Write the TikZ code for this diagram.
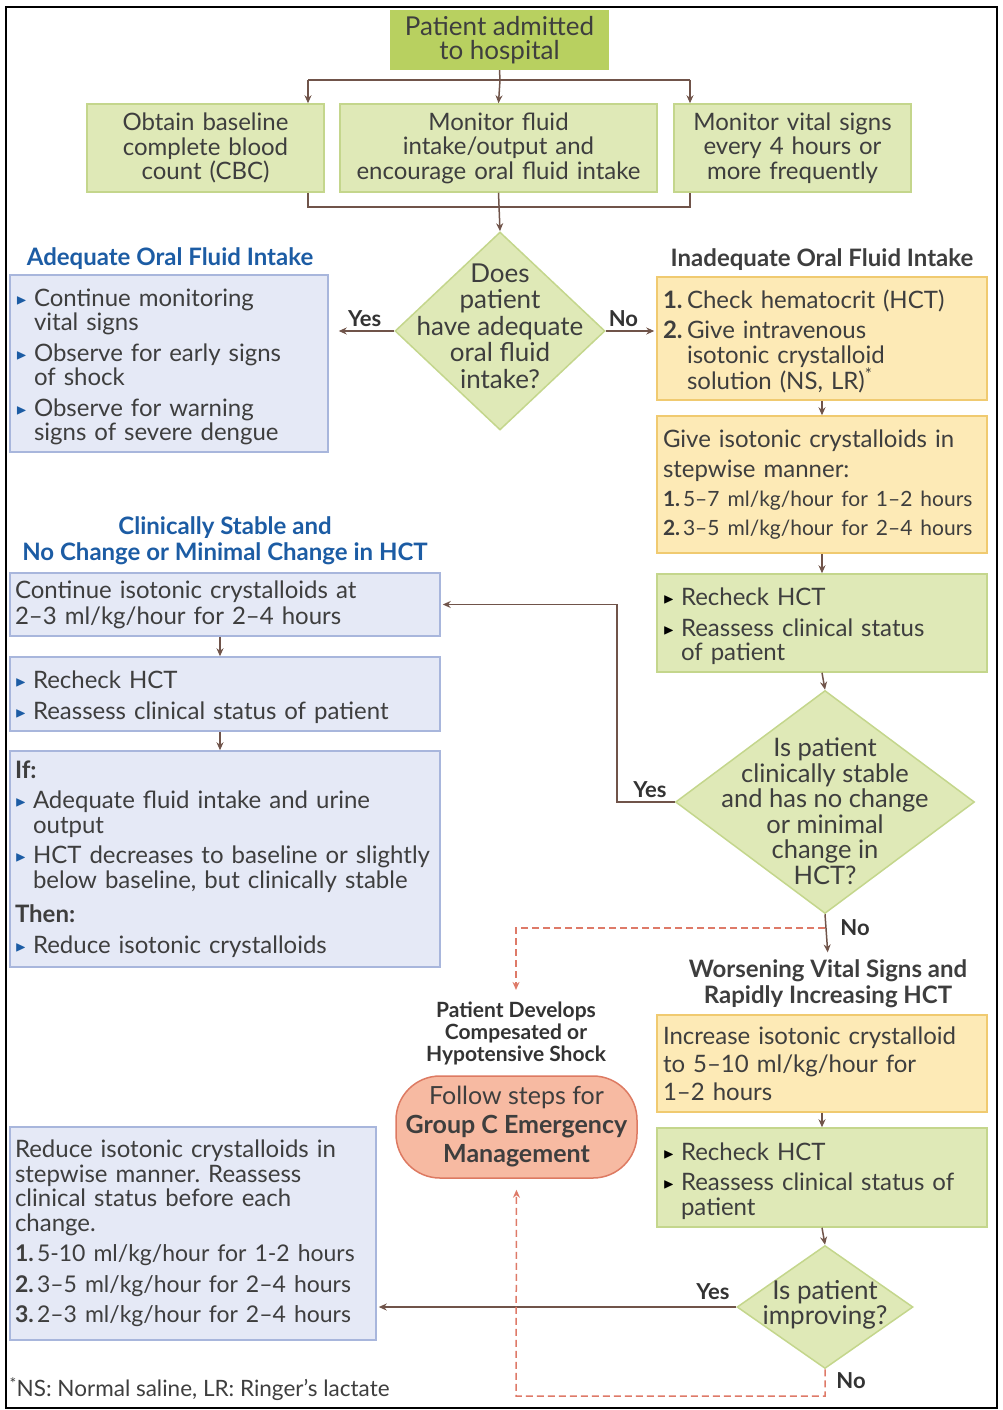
\documentclass[tikz,border=0pt]{standalone}
\usepackage{amssymb}
\usepackage{fontspec}
\setmainfont{Lato}
\usetikzlibrary{shapes.geometric,arrows.meta}

\definecolor{txt}{RGB}{62,62,62}
\definecolor{leaf}{RGB}{184,208,96}
\definecolor{pale}{RGB}{223,233,183}
\definecolor{paleline}{RGB}{196,214,140}
\definecolor{lav}{RGB}{229,233,246}
\definecolor{lavline}{RGB}{168,182,220}
\definecolor{sun}{RGB}{253,234,182}
\definecolor{sunline}{RGB}{240,202,112}
\definecolor{coral}{RGB}{247,186,162}
\definecolor{coralline}{RGB}{221,122,98}
\definecolor{navy}{RGB}{28,92,164}
\definecolor{brownline}{RGB}{112,84,74}
\definecolor{alarm}{RGB}{222,122,104}

\newcommand{\tri}[1]{\makebox[18pt][l]{\raisebox{2pt}{\textcolor{#1}{\scalebox{0.6}{$\blacktriangleright$}}}}}
\newcommand{\bul}[2][navy]{\par\noindent\hangindent=18pt\hangafter=1\tri{#1}#2\par}
\newcommand{\num}[3][24pt]{\par\noindent\hangindent=#1\hangafter=1\makebox[#1][l]{\textbf{#2.}}#3\par}
\newcommand{\gap}{\par\vspace{6pt}}
\frenchspacing

\begin{document}
\begin{tikzpicture}[x=1pt,y=-1pt,
    every node/.style={text=txt, font=\fontsize{24}{24.5}\selectfont},
    card/.style={draw, line width=1.5pt, inner xsep=5pt, inner ysep=0pt, align=left},
    leafbox/.style={card, fill=pale, draw=paleline},
    lavbox/.style={card, fill=lav, draw=lavline},
    sunbox/.style={card, fill=sun, draw=sunline},
    query/.style={diamond, fill=pale, draw=paleline, line width=1.5pt, inner sep=0pt},
    head/.style={font=\fontsize{24}{26}\selectfont\bfseries, align=center},
    answer/.style={font=\fontsize{22}{24}\selectfont\bfseries, text=black!80},
    link/.style={draw=brownline, line width=1.5pt},
    arr/.style={link, -{Stealth[length=8pt,width=7pt]}},
    alarmlink/.style={draw=alarm, line width=1.5pt, dash pattern=on 7pt off 4pt, -{Stealth[length=8pt,width=7pt]}}]
\useasboundingbox (0,0) rectangle (1002,1410);
\draw[line width=1.5pt] (6,7) rectangle (997,1408);

\node[fill=leaf, minimum width=219, minimum height=60, inner sep=0pt, align=center, font=\fontsize{26}{24}\selectfont] (admit) at (499.5,40) {Patient admitted\\to hospital};
\node[leafbox, align=center, inner xsep=2pt, minimum width=237, minimum height=88, text width=231] (baseline) at (205.5,148) {Obtain baseline\\complete blood\\count (CBC)};
\node[leafbox, align=center, inner xsep=2pt, minimum width=317, minimum height=88, text width=311] (intake) at (498.5,148) {Monitor fluid\\intake/output and\\encourage oral fluid intake};
\node[leafbox, align=center, inner xsep=2pt, minimum width=237, minimum height=88, text width=231] (vitals) at (792.5,148) {Monitor vital signs\\every 4 hours or\\more frequently};

\node[query, minimum width=210, minimum height=198] (oral) at (500,331) {};
\node[align=center, font=\fontsize{26}{26.5}\selectfont] (oralq) at (500,326) {Does\\patient\\have adequate\\oral fluid\\intake?};

\node[head, text=navy] (adhead) at (170,259) {Adequate Oral Fluid Intake};
\node[lavbox, minimum width=318, minimum height=177, text width=306] (adequate) at (169,363.5) {%
\bul{Continue monitoring\newline vital signs}\gap
\bul{Observe for early signs\newline of shock}\gap
\bul{Observe for warning\newline signs of severe dengue}};

\node[head] (inhead) at (822,260) {Inadequate Oral Fluid Intake};
\node[sunbox, minimum width=330, minimum height=123, text width=318] (iv) at (822,338.5) {%
\num{1}{Check hematocrit (HCT)}\gap
\num{2}{Give intravenous\newline isotonic crystalloid\newline solution (NS, LR)\textsuperscript{*}}};
\node[sunbox, minimum width=330, minimum height=137, text width=318, font=\fontsize{24}{30}\selectfont] (stepwise) at (822,484.5) {%
Give isotonic crystalloids in\\stepwise manner:\par
{\fontsize{21}{29}\selectfont\num[20pt]{1}{5–7 ml/kg/hour for 1–2 hours}\num[20pt]{2}{3–5 ml/kg/hour for 2–4 hours}}};
\node[leafbox, minimum width=330, minimum height=98, text width=318] (recheckA) at (822,623) {%
\bul[black]{Recheck HCT}\gap
\bul[black]{Reassess clinical status\newline of patient}};

\node[query, minimum width=299, minimum height=223] (stable) at (825,802) {};
\node[align=center, font=\fontsize{25.5}{25.5}\selectfont] (stableq) at (825,811) {Is patient\\clinically stable\\and has no change\\or minimal\\change in\\HCT?};

\node[head, text=navy] (sthead) at (225,541) {Clinically Stable and\\No Change or Minimal Change in HCT};
\node[lavbox, minimum width=430, minimum height=63, text width=420, font=\fontsize{24}{26}\selectfont] (keep) at (225,604.5) {Continue isotonic crystalloids at\\2–3 ml/kg/hour for 2–4 hours};
\node[lavbox, minimum width=430, minimum height=74, text width=420] (recheckB) at (225,694) {%
\bul{Recheck HCT}\gap
\bul{Reassess clinical status of patient}};
\node[lavbox, minimum width=430, minimum height=216, text width=420] (ifthen) at (225,859) {%
\textbf{If:}\gap
\bul{Adequate fluid intake and urine\newline output}\gap
\bul{HCT decreases to baseline or slightly\newline below baseline, but clinically stable}\vspace{10pt}
\textbf{Then:}\gap
\bul{Reduce isotonic crystalloids}};

\node[head] (wohead) at (828,984) {Worsening Vital Signs and\\Rapidly Increasing HCT};
\node[sunbox, minimum width=330, minimum height=97, text width=318, font=\fontsize{24}{28}\selectfont] (increase) at (822,1063.5) {Increase isotonic crystalloid\\to 5–10 ml/kg/hour for\\1–2 hours};
\node[leafbox, minimum width=330, minimum height=99, text width=318] (recheckC) at (822,1177.5) {%
\bul[black]{Recheck HCT}\gap
\bul[black]{Reassess clinical status of\newline patient}};
\node[query, minimum width=176, minimum height=123] (better) at (825,1307) {};
\node[align=center, font=\fontsize{26}{25}\selectfont] (betterq) at (825,1305) {Is patient\\improving?};

\node[head, font=\fontsize{21}{22}\selectfont\bfseries, text=black!80] (shockhead) at (516,1033) {Patient Develops\\Compesated or\\Hypotensive Shock};
\node[fill=coral, draw=coralline, line width=1.5pt, rounded corners=44pt, minimum width=241, minimum height=102, inner sep=0pt, align=center, font=\fontsize{25}{29}\selectfont] (groupc) at (516.5,1127) {Follow steps for\\\textbf{Group C Emergency}\\\textbf{Management}};

\node[lavbox, minimum width=366, minimum height=213, text width=356] (reduce) at (193,1233.5) {%
Reduce isotonic crystalloids in\\stepwise manner. Reassess\\clinical status before each\\change.\gap
{\fontsize{23}{24.5}\selectfont
\num[22pt]{1}{5-10 ml/kg/hour for 1-2 hours}\gap
\num[22pt]{2}{3–5 ml/kg/hour for 2–4 hours}\gap
\num[22pt]{3}{2–3 ml/kg/hour for 2–4 hours}}};

\node[anchor=west, font=\fontsize{22.5}{22}\selectfont] (note) at (6,1389) {\textsuperscript{*}NS: Normal saline, LR: Ringer’s lactate};

\coordinate (fork) at (500,80);
\coordinate (forkL) at (308,80);
\coordinate (forkR) at (690,80);
\coordinate (mergeL) at (308,207);
\coordinate (mergeR) at (690,207);
\draw[link] (admit.south) -- (fork);
\draw[link] (forkL) -- (forkR);
\draw[arr] (forkL) -- (forkL |- baseline.north);
\draw[arr] (fork) -- (intake.north);
\draw[arr] (forkR) -- (forkR |- vitals.north);
\draw[link] (mergeL |- baseline.south) -- (mergeL) -- (mergeR) -- (mergeR |- vitals.south);
\draw[arr] (intake.south) -- (oral.north);

\draw[arr, shorten >=10pt] (oral.west) -- (oral.west -| adequate.east) node[answer, pos=0.45, above] (yesA) {Yes};
\draw[arr, shorten >=2pt] (oral.east) -- (oral.east -| iv.west) node[answer, pos=0.35, above] (noA) {No};
\draw[arr] (iv.south) -- (stepwise.north);
\draw[arr] (stepwise.south) -- (recheckA.north);
\draw[arr] (recheckA.south) -- (stable.north);

\coordinate (loop) at (617,604.5);
\draw[arr, shorten >=2pt] (stable.west) -| (loop) -- (keep.east);
\node[answer] (yesB) at (650,790) {Yes};
\coordinate (stackL) at (220,0);
\draw[arr] (keep.south -| stackL) -- (recheckB.north -| stackL);
\draw[arr] (recheckB.south -| stackL) -- (ifthen.north -| stackL);

\coordinate (split) at (825,928);
\coordinate (splitL) at (516,928);
\draw[arr, shorten >=4pt] (stable.south) -- (wohead.north);
\node[answer] (noB) at (855,928) {No};
\draw[alarmlink, shorten >=8pt] (split) -- (splitL) -- (shockhead.north);

\draw[arr] (increase.south) -- (recheckC.north);
\draw[arr] (recheckC.south) -- (better.north);
\draw[arr, shorten >=2pt] (better.west) -- (better.west -| reduce.east);
\node[answer] (yesC) at (713,1292) {Yes};

\coordinate (lowR) at (825,1396);
\coordinate (lowL) at (516,1396);
\draw[alarmlink, shorten >=11pt] (better.south) -- (lowR) -- (lowL) -- (groupc.south);
\node[answer] (noC) at (851,1381) {No};
\end{tikzpicture}
\end{document}
